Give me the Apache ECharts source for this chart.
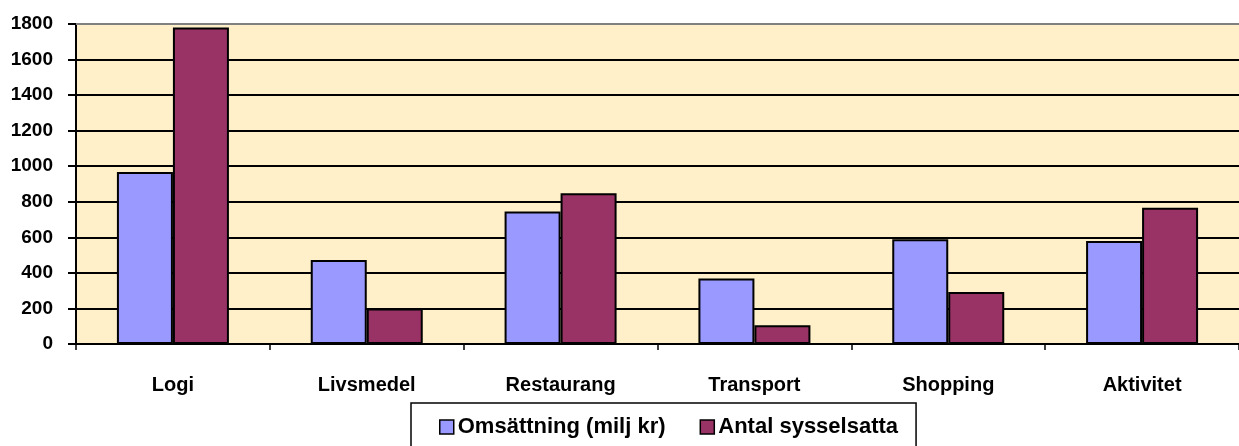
<!DOCTYPE html>
<html><head><meta charset="utf-8">
<script src="https://cdn.jsdelivr.net/npm/echarts@6/dist/echarts.min.js"></script>
<style>html,body{margin:0;padding:0;background:#fff}#c{width:1239px;height:446px}</style>
</head><body><div id="c"></div>
<script>
const categories = ['Logi','Livsmedel','Restaurang','Transport','Shopping','Aktivitet'];
const omsattning = [968, 472, 745, 369, 589, 580];
const sysselsatta = [1780, 200, 848, 106, 293, 766];
const seriesNames = ['Omsättning (milj kr)', 'Antal sysselsatta'];
const yTicks = [0,200,400,600,800,1000,1200,1400,1600,1800];

const FONT = 'Liberation Sans, Arial, sans-serif';
const chart = echarts.init(document.getElementById('c'), null, {renderer:'canvas'});
chart.setOption({
  animation:false,
  backgroundColor:'#ffffff',
  grid:{left:76, right:0, top:24, bottom:102, show:true, backgroundColor:'#FFF0C9', borderColor:'#808080', borderWidth:0},
  legend:{
    data:seriesNames, left:411, top:403,
    padding:[13,18,40,28], itemGap:34,
    borderColor:'#000', borderWidth:1.5,
    itemWidth:14, itemHeight:14, icon:'rect',
    itemStyle:{borderColor:'#000', borderWidth:1.5},
    textStyle:{fontFamily:FONT, fontWeight:'bold', fontSize:22, color:'#000', padding:[0,0,0,-1]}
  },
  xAxis:{
    type:'category', data:categories,
    axisLine:{lineStyle:{color:'#000', width:2}},
    axisTick:{show:true, length:6, lineStyle:{color:'#000', width:1.5}},
    axisLabel:{margin:31, fontFamily:FONT, fontWeight:'bold', fontSize:20, color:'#000'}
  },
  yAxis:{
    type:'value', min:0, max:1800, interval:200,
    axisLine:{show:true, lineStyle:{color:'#000', width:2}},
    axisTick:{show:true, length:8, lineStyle:{color:'#000', width:2}},
    axisLabel:{margin:23, fontFamily:FONT, fontWeight:'bold', fontSize:19, color:'#000',
      formatter:function(v){return yTicks.indexOf(v)>=0 ? String(v) : '';}},
    splitLine:{show:true, lineStyle:{color:'#000', width:2}}
  },
  series:[
    {name:seriesNames[0], type:'bar', data:omsattning, barWidth:56, barGap:'0%',
      itemStyle:{color:'#9999FF', borderColor:'#000', borderWidth:2}},
    {name:seriesNames[1], type:'bar', data:sysselsatta, barWidth:56, barGap:'0%',
      itemStyle:{color:'#993366', borderColor:'#000', borderWidth:2}}
  ],
  graphic:[{type:'line', shape:{x1:76,y1:24,x2:1239,y2:24}, style:{stroke:'#808080', lineWidth:2}, z:100}]
});
</script></body></html>
